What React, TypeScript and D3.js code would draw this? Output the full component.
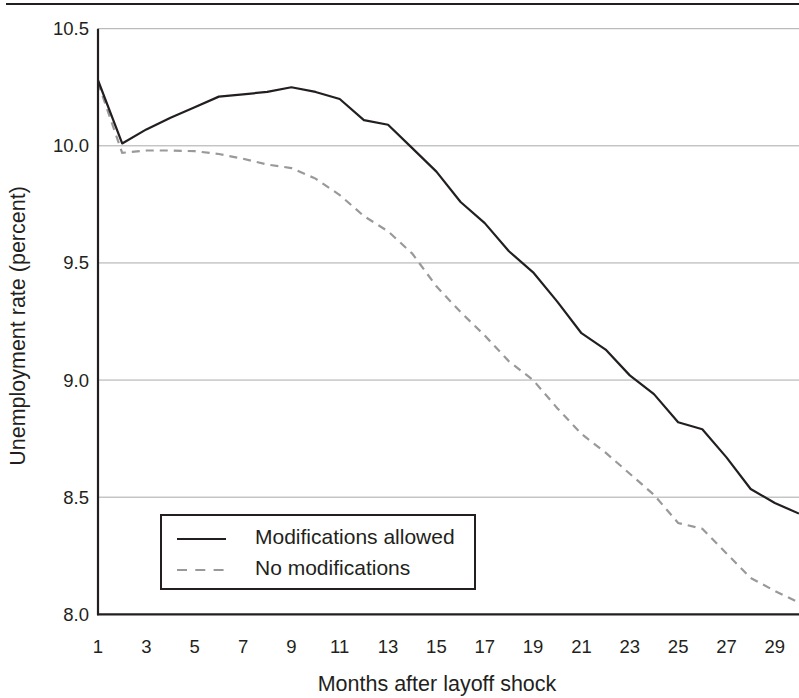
import React, { useEffect, useRef } from 'react';
import * as d3 from 'd3';

// months after shock
const months = d3.range(1, 31);
// unemployment rate, modifications allowed
const modAllowed = [
  10.28, 10.01, 10.07, 10.12, 10.165, 10.21, 10.22, 10.23, 10.25, 10.23,
  10.2, 10.11, 10.09, 9.99, 9.89, 9.76, 9.67, 9.55, 9.46, 9.335,
  9.2, 9.13, 9.02, 8.94, 8.82, 8.79, 8.67, 8.535, 8.475, 8.43
];
// unemployment rate, no modifications
const noMod = [
  10.27, 9.97, 9.98, 9.98, 9.977, 9.965, 9.945, 9.92, 9.905, 9.86,
  9.79, 9.7, 9.635, 9.54, 9.4, 9.29, 9.19, 9.08, 9.0, 8.88,
  8.77, 8.69, 8.6, 8.51, 8.39, 8.365, 8.26, 8.155, 8.1, 8.05
];
const yTicks = [8.0, 8.5, 9.0, 9.5, 10.0, 10.5];
const xTicks = [1, 3, 5, 7, 9, 11, 13, 15, 17, 19, 21, 23, 25, 27, 29];
const seriesNames = ['Modifications allowed', 'No modifications'];

const App = () => {
  const ref = useRef<SVGSVGElement>(null);

  useEffect(() => {
    const svg = d3.select(ref.current);
    svg.selectAll('*').remove();
    const font = 'Liberation Sans, Arial, Helvetica, sans-serif';

    const x = d3.scaleLinear().domain([1, 30]).range([98, 799]);
    const y = d3.scaleLinear().domain([8, 10.5]).range([614.3, 28.7]);

    // top rule
    svg.append('line')
      .attr('x1', 6).attr('x2', 799).attr('y1', 4).attr('y2', 4)
      .attr('stroke', '#231f20').attr('stroke-width', 2.2);

    // gridlines
    svg.selectAll('.grid')
      .data(yTicks.filter(d => d > 8))
      .enter().append('line')
      .attr('x1', x(1)).attr('x2', 799)
      .attr('y1', d => y(d)).attr('y2', d => y(d))
      .attr('stroke', '#aaaaaa').attr('stroke-width', 1);

    // y tick labels
    svg.selectAll('.ylab')
      .data(yTicks)
      .enter().append('text')
      .attr('x', 89).attr('y', d => y(d) + 6.5)
      .attr('text-anchor', 'end')
      .attr('font-family', font).attr('font-size', 18.5)
      .attr('fill', '#231f20')
      .text(d => d.toFixed(1));

    // x tick labels
    svg.selectAll('.xlab')
      .data(xTicks)
      .enter().append('text')
      .attr('x', d => x(d)).attr('y', 652.5)
      .attr('text-anchor', 'middle')
      .attr('font-family', font).attr('font-size', 18.5)
      .attr('fill', '#231f20')
      .text(d => d);

    const line = d3.line<number>()
      .x((d, i) => x(months[i]))
      .y(d => y(d));

    svg.append('path')
      .datum(noMod)
      .attr('d', line)
      .attr('fill', 'none')
      .attr('stroke', '#999999')
      .attr('stroke-width', 2.2)
      .attr('stroke-dasharray', '8,6');

    svg.append('path')
      .datum(modAllowed)
      .attr('d', line)
      .attr('fill', 'none')
      .attr('stroke', '#231f20')
      .attr('stroke-width', 2.2)
      .attr('stroke-linejoin', 'round');

    // axes lines
    svg.append('line')
      .attr('x1', x(1)).attr('x2', x(1)).attr('y1', y(10.5)).attr('y2', y(8) + 1)
      .attr('stroke', '#231f20').attr('stroke-width', 2.2);
    svg.append('line')
      .attr('x1', x(1) - 1).attr('x2', 799).attr('y1', y(8)).attr('y2', y(8))
      .attr('stroke', '#231f20').attr('stroke-width', 2.2);

    // axis titles
    svg.append('text')
      .attr('x', 437).attr('y', 691)
      .attr('text-anchor', 'middle')
      .attr('font-family', font).attr('font-size', 21.5)
      .attr('fill', '#231f20')
      .text('Months after layoff shock');
    svg.append('text')
      .attr('transform', `translate(25,326) rotate(-90)`)
      .attr('text-anchor', 'middle')
      .attr('font-family', font).attr('font-size', 21.5)
      .attr('fill', '#231f20')
      .text('Unemployment rate (percent)');

    // legend
    const lg = svg.append('g');
    lg.append('rect')
      .attr('x', 161).attr('y', 515).attr('width', 314).attr('height', 74)
      .attr('fill', 'white').attr('stroke', '#231f20').attr('stroke-width', 2);
    const rows = [
      { name: seriesNames[0], color: '#231f20', dash: null, yy: 539, base: 544 },
      { name: seriesNames[1], color: '#999999', dash: '10,8.3', yy: 570, base: 575 },
    ];
    rows.forEach(r => {
      lg.append('line')
        .attr('x1', 177).attr('x2', 226).attr('y1', r.yy).attr('y2', r.yy)
        .attr('stroke', r.color).attr('stroke-width', 2.2)
        .attr('stroke-dasharray', r.dash);
      lg.append('text')
        .attr('x', 255).attr('y', r.base)
        .attr('font-family', font).attr('font-size', 21)
        .attr('fill', '#231f20')
        .text(r.name);
    });
  }, []);

  return (
    <svg
      ref={ref}
      width={799}
      height={698}
      style={{ position: 'absolute', left: 0, top: 0, background: 'white' }}
    />
  );
};

export default App;
